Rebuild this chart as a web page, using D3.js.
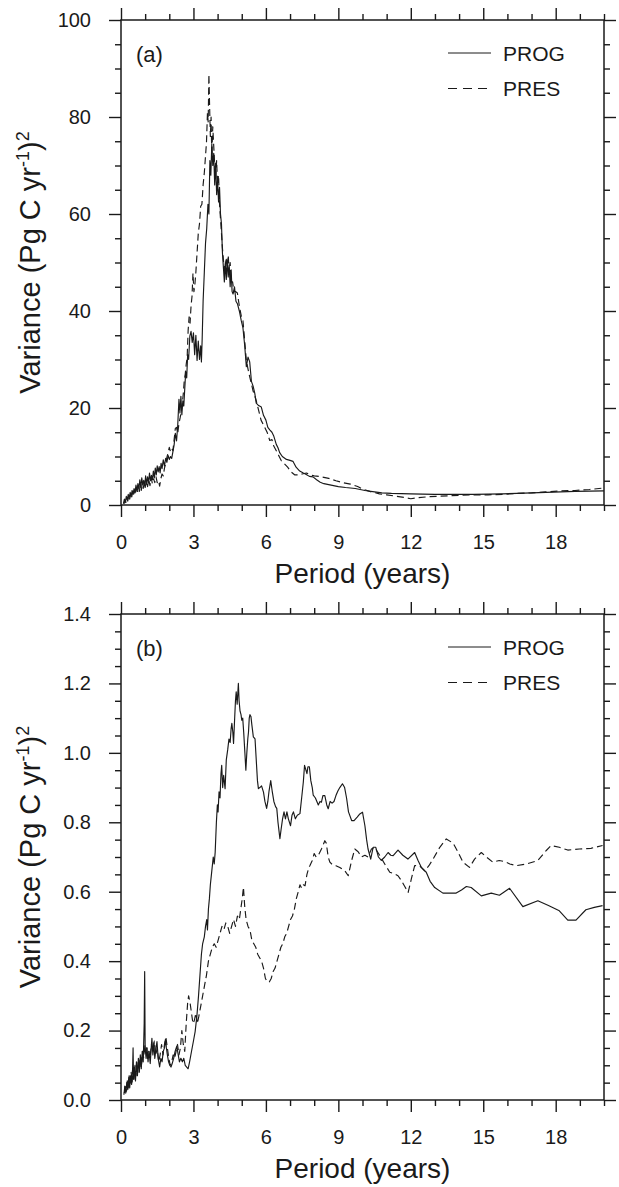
<!DOCTYPE html>
<html><head><meta charset="utf-8">
<script src="https://cdn.jsdelivr.net/npm/d3@7"></script>
<style>
html,body{margin:0;padding:0;background:#fff;}
svg text{font-family:"Liberation Sans",Arial,Helvetica,sans-serif;fill:#1a1a1a;}
</style></head>
<body><svg id="c" width="619" height="1187"></svg>
<script>
// ---------- DATA ----------
const seriesNames = ["PROG", "PRES"];
const panelLabels = ["(a)", "(b)"];
const xTickValues = [0, 3, 6, 9, 12, 15, 18];
const yTicksA = [0, 20, 40, 60, 80, 100];
const yTicksB = [0, 0.2, 0.4, 0.6, 0.8, 1.0, 1.2, 1.4];

// panel (a): [period (years), variance]
const progA = [[0.10,0.3],[0.14,1.2],[0.18,0.6],[0.22,1.8],[0.26,1.0],[0.30,2.2],[0.34,1.4],[0.38,2.6],[0.42,1.7],[0.46,3.0],[0.50,2.2],[0.54,3.4],[0.58,2.5],[0.62,4.1],[0.66,2.9],[0.70,4.4],[0.74,3.3],[0.78,5.2],[0.82,3.6],[0.86,5.6],[0.90,4.2],[0.94,5.1],[0.98,3.9],[1.02,6.0],[1.06,4.3],[1.10,5.8],[1.14,4.6],[1.18,6.6],[1.22,5.0],[1.26,6.1],[1.30,5.2],[1.34,7.0],[1.38,5.6],[1.42,7.6],[1.46,6.2],[1.50,8.1],[1.54,6.8],[1.58,7.9],[1.62,6.6],[1.66,8.6],[1.70,7.5],[1.75,9.3],[1.80,8.0],[1.85,9.6],[1.90,8.8],[1.95,10.2],[2.00,9.4],[2.05,10.0],[2.10,9.6],[2.15,11.0],[2.20,12.4],[2.25,14.8],[2.30,13.2],[2.35,16.5],[2.40,21.8],[2.44,19.0],[2.48,22.4],[2.52,18.6],[2.56,21.5],[2.60,20.4],[2.64,24.0],[2.68,27.5],[2.72,26.2],[2.76,31.0],[2.80,30.0],[2.85,34.8],[2.90,35.8],[2.95,33.5],[3.00,35.5],[3.05,31.0],[3.10,35.0],[3.15,29.8],[3.20,33.8],[3.25,30.0],[3.30,32.8],[3.33,29.5],[3.36,34],[3.40,42],[3.45,48],[3.50,54],[3.55,57],[3.60,62],[3.64,60],[3.68,71],[3.72,68],[3.76,74.5],[3.80,70],[3.84,72.5],[3.88,66],[3.92,70.5],[3.96,64],[4.00,67],[4.04,62.5],[4.08,65.5],[4.12,60],[4.16,58],[4.20,52],[4.24,49],[4.28,46],[4.32,50],[4.36,46.5],[4.40,50.5],[4.44,47],[4.48,49.5],[4.52,45],[4.56,48.5],[4.60,44],[4.64,43.5],[4.70,45],[4.76,42],[4.82,41.5],[4.90,40],[4.98,38],[5.05,36.5],[5.12,33],[5.19,28.5],[5.26,30.5],[5.33,29.5],[5.40,25.5],[5.47,24.5],[5.54,23],[5.60,21],[5.70,20.5],[5.81,20.2],[5.90,18.5],[6.00,17.5],[6.08,16],[6.16,15.5],[6.25,15],[6.32,14.3],[6.43,12.5],[6.50,11.8],[6.57,10.8],[6.68,10],[6.85,9.4],[7.00,9.2],[7.12,9],[7.25,7.8],[7.40,7],[7.55,6.6],[7.67,6.3],[7.80,5.9],[7.95,5.8],[8.10,5.2],[8.25,4.7],[8.40,4.4],[8.60,4.2],[8.80,4.0],[9.00,3.8],[9.30,3.6],[9.70,3.4],[10.1,3.0],[10.5,2.7],[10.8,2.5],[11.2,2.4],[11.6,2.35],[12.0,2.3],[12.5,2.25],[13.0,2.2],[13.5,2.2],[14.0,2.2],[14.6,2.2],[15.2,2.25],[15.8,2.3],[16.4,2.4],[17.0,2.5],[17.6,2.6],[18.2,2.7],[18.8,2.8],[19.4,2.85],[20.0,2.9]];
const presA = [[0.12,0.2],[0.16,0.9],[0.20,0.5],[0.24,1.5],[0.28,0.8],[0.32,1.9],[0.36,1.2],[0.40,2.3],[0.44,1.5],[0.48,2.7],[0.52,1.9],[0.56,3.1],[0.60,2.2],[0.64,3.6],[0.68,2.5],[0.72,3.9],[0.76,2.8],[0.80,4.0],[0.84,3.0],[0.88,4.4],[0.92,3.4],[0.96,4.6],[1.00,3.6],[1.05,5.0],[1.10,3.8],[1.15,5.2],[1.20,4.0],[1.25,5.6],[1.30,4.4],[1.35,5.4],[1.40,4.6],[1.45,5.8],[1.50,4.6],[1.55,5.0],[1.60,3.9],[1.65,5.4],[1.70,6.4],[1.75,6.0],[1.80,7.6],[1.85,8.5],[1.90,9.8],[1.95,10.8],[2.00,11.9],[2.05,11.0],[2.10,11.6],[2.15,11.2],[2.20,13.5],[2.25,15.8],[2.30,16.0],[2.35,14.8],[2.40,16.8],[2.45,18.0],[2.50,19.5],[2.55,21.5],[2.58,23],[2.62,25.7],[2.66,27],[2.70,29],[2.74,30.5],[2.78,36],[2.82,38.8],[2.86,37.5],[2.90,41],[2.94,43],[2.98,47.8],[3.02,44],[3.06,45.5],[3.10,48],[3.15,52],[3.20,56],[3.25,58],[3.30,61.6],[3.35,62],[3.40,66],[3.45,68.5],[3.50,72],[3.54,74.8],[3.58,80.9],[3.61,79],[3.64,88.8],[3.67,82],[3.70,76],[3.73,80],[3.76,72],[3.80,78],[3.84,74],[3.88,70],[3.92,67.5],[3.96,71],[4.00,66],[4.04,68],[4.08,62],[4.12,59],[4.16,56],[4.20,53],[4.25,50],[4.30,48],[4.35,51],[4.40,49],[4.44,51.5],[4.48,48],[4.52,50],[4.56,46],[4.62,46],[4.68,44],[4.75,44],[4.82,43.7],[4.90,41],[4.98,39],[5.05,38],[5.12,34],[5.19,29.8],[5.26,28],[5.33,26.4],[5.40,25],[5.47,23.5],[5.54,22.5],[5.60,21.5],[5.70,19.5],[5.80,17.5],[5.88,16.7],[5.95,16],[6.05,15],[6.16,13.3],[6.25,13.5],[6.32,12.2],[6.43,11.2],[6.55,10],[6.64,9.1],[6.75,8.6],[6.90,7.8],[7.05,6.8],[7.20,6.2],[7.35,6.2],[7.50,6.4],[7.68,6.6],[7.85,6.2],[8.00,6.0],[8.20,5.9],[8.40,5.7],[8.60,5.5],[8.90,5.0],[9.20,4.6],[9.50,4.3],[9.80,3.8],[10.05,3.2],[10.3,2.8],[10.7,2.3],[11.0,2.1],[11.4,1.8],[11.8,1.5],[12.0,1.3],[12.3,1.5],[12.7,1.7],[13.1,1.8],[13.6,1.9],[14.0,2.0],[14.6,2.1],[15.2,2.1],[15.8,2.2],[16.4,2.4],[17.0,2.5],[17.6,2.7],[18.2,2.9],[18.8,3.0],[19.4,3.2],[20.0,3.5]];

// panel (b)
const progB = [[0.12,0.015],[0.16,0.04],[0.20,0.02],[0.24,0.05],[0.28,0.03],[0.32,0.065],[0.36,0.035],[0.40,0.07],[0.44,0.045],[0.48,0.09],[0.50,0.15],[0.52,0.06],[0.56,0.095],[0.60,0.055],[0.64,0.11],[0.68,0.07],[0.72,0.12],[0.76,0.08],[0.80,0.13],[0.84,0.09],[0.88,0.14],[0.92,0.11],[0.96,0.22],[0.98,0.37],[1.00,0.15],[1.04,0.12],[1.08,0.15],[1.12,0.11],[1.16,0.14],[1.21,0.105],[1.25,0.15],[1.28,0.178],[1.32,0.13],[1.36,0.165],[1.40,0.12],[1.45,0.15],[1.49,0.168],[1.54,0.12],[1.60,0.095],[1.65,0.12],[1.70,0.11],[1.75,0.14],[1.80,0.15],[1.84,0.175],[1.88,0.15],[1.92,0.13],[1.97,0.11],[2.02,0.1],[2.07,0.095],[2.12,0.105],[2.18,0.12],[2.24,0.14],[2.31,0.155],[2.37,0.13],[2.42,0.11],[2.48,0.12],[2.54,0.11],[2.60,0.12],[2.66,0.1],[2.72,0.095],[2.78,0.09],[2.84,0.11],[2.93,0.144],[3.00,0.17],[3.07,0.197],[3.14,0.24],[3.21,0.3],[3.27,0.36],[3.33,0.42],[3.38,0.45],[3.45,0.47],[3.50,0.5],[3.55,0.52],[3.58,0.49],[3.62,0.55],[3.66,0.58],[3.70,0.62],[3.76,0.66],[3.82,0.7],[3.86,0.68],[3.90,0.714],[3.95,0.8],[3.99,0.85],[4.02,0.83],[4.06,0.888],[4.10,0.87],[4.14,0.94],[4.17,0.964],[4.21,0.9],[4.25,0.935],[4.31,0.897],[4.36,0.98],[4.42,1.01],[4.47,1.04],[4.52,1.03],[4.56,1.07],[4.59,1.085],[4.63,1.06],[4.66,1.027],[4.70,1.09],[4.74,1.15],[4.77,1.176],[4.81,1.14],[4.86,1.2],[4.89,1.15],[4.93,1.12],[4.97,1.11],[5.00,1.094],[5.04,1.1],[5.08,1.06],[5.13,1.0],[5.17,0.95],[5.21,1.0],[5.25,1.04],[5.28,1.06],[5.31,1.1],[5.34,1.11],[5.38,1.105],[5.42,1.08],[5.48,1.046],[5.55,1.04],[5.60,0.98],[5.65,0.92],[5.69,0.897],[5.75,0.9],[5.82,0.905],[5.90,0.887],[5.96,0.86],[6.03,0.84],[6.08,0.86],[6.13,0.89],[6.20,0.92],[6.26,0.89],[6.33,0.86],[6.40,0.845],[6.45,0.84],[6.50,0.8],[6.58,0.753],[6.63,0.78],[6.69,0.81],[6.75,0.83],[6.81,0.81],[6.87,0.83],[6.93,0.81],[7.02,0.79],[7.08,0.82],[7.14,0.83],[7.22,0.81],[7.30,0.82],[7.41,0.825],[7.48,0.87],[7.55,0.916],[7.60,0.964],[7.66,0.95],[7.70,0.94],[7.74,0.96],[7.80,0.96],[7.86,0.92],[7.92,0.9],[7.96,0.878],[8.05,0.87],[8.17,0.85],[8.24,0.86],[8.30,0.858],[8.36,0.877],[8.44,0.877],[8.52,0.85],[8.58,0.839],[8.66,0.86],[8.74,0.855],[8.82,0.86],[8.90,0.877],[8.98,0.89],[9.06,0.90],[9.17,0.911],[9.26,0.9],[9.34,0.87],[9.42,0.83],[9.55,0.805],[9.65,0.805],[9.78,0.815],[9.89,0.824],[10.0,0.829],[10.1,0.79],[10.17,0.75],[10.23,0.723],[10.34,0.694],[10.44,0.728],[10.55,0.728],[10.66,0.7],[10.78,0.69],[10.92,0.7],[11.06,0.713],[11.17,0.705],[11.27,0.704],[11.47,0.72],[11.67,0.705],[11.88,0.694],[12.16,0.713],[12.30,0.69],[12.44,0.67],[12.64,0.656],[12.8,0.63],[12.99,0.612],[13.33,0.596],[13.88,0.596],[14.1,0.605],[14.3,0.615],[14.5,0.612],[14.92,0.588],[15.33,0.596],[15.67,0.59],[16.09,0.61],[16.64,0.557],[17.26,0.574],[17.7,0.56],[18.15,0.545],[18.5,0.518],[18.84,0.518],[19.25,0.548],[19.6,0.555],[19.94,0.56]];
const presB = [[0.14,0.02],[0.18,0.045],[0.22,0.025],[0.26,0.055],[0.30,0.035],[0.34,0.07],[0.38,0.045],[0.42,0.08],[0.46,0.05],[0.50,0.09],[0.54,0.06],[0.58,0.1],[0.62,0.07],[0.66,0.11],[0.70,0.08],[0.74,0.12],[0.78,0.09],[0.82,0.125],[0.86,0.1],[0.90,0.14],[0.94,0.12],[0.98,0.16],[1.02,0.13],[1.06,0.15],[1.10,0.12],[1.15,0.14],[1.20,0.12],[1.26,0.16],[1.32,0.14],[1.38,0.17],[1.44,0.13],[1.50,0.15],[1.56,0.11],[1.62,0.13],[1.68,0.16],[1.74,0.13],[1.80,0.16],[1.86,0.18],[1.92,0.15],[1.98,0.12],[2.04,0.1],[2.10,0.11],[2.16,0.13],[2.22,0.12],[2.28,0.14],[2.34,0.16],[2.40,0.13],[2.46,0.15],[2.52,0.2],[2.58,0.16],[2.64,0.14],[2.70,0.22],[2.76,0.28],[2.80,0.3],[2.86,0.28],[2.92,0.25],[2.98,0.22],[3.04,0.23],[3.10,0.25],[3.16,0.22],[3.22,0.24],[3.30,0.27],[3.38,0.3],[3.46,0.33],[3.54,0.36],[3.62,0.4],[3.70,0.42],[3.78,0.44],[3.86,0.45],[3.94,0.44],[4.02,0.46],[4.10,0.48],[4.18,0.5],[4.26,0.49],[4.34,0.51],[4.42,0.5],[4.50,0.48],[4.58,0.5],[4.66,0.52],[4.74,0.5],[4.82,0.53],[4.90,0.52],[4.96,0.55],[5.02,0.58],[5.07,0.613],[5.12,0.56],[5.18,0.52],[5.26,0.5],[5.34,0.49],[5.42,0.46],[5.50,0.45],[5.58,0.44],[5.66,0.42],[5.74,0.41],[5.82,0.4],[5.90,0.38],[5.98,0.35],[6.06,0.34],[6.14,0.34],[6.22,0.35],[6.30,0.37],[6.38,0.38],[6.46,0.4],[6.54,0.42],[6.62,0.44],[6.70,0.45],[6.78,0.47],[6.86,0.48],[6.94,0.5],[7.02,0.52],[7.10,0.53],[7.18,0.55],[7.26,0.58],[7.34,0.6],[7.41,0.62],[7.48,0.61],[7.55,0.62],[7.62,0.617],[7.70,0.65],[7.78,0.67],[7.82,0.675],[7.92,0.69],[8.0,0.71],[8.08,0.7],[8.17,0.705],[8.30,0.723],[8.44,0.747],[8.50,0.74],[8.58,0.7],[8.65,0.685],[8.75,0.678],[8.90,0.675],[9.06,0.67],[9.27,0.66],[9.41,0.646],[9.55,0.69],[9.68,0.723],[9.82,0.715],[9.96,0.7],[10.1,0.705],[10.23,0.7],[10.37,0.723],[10.5,0.728],[10.71,0.705],[10.92,0.68],[11.13,0.656],[11.3,0.652],[11.47,0.646],[11.61,0.632],[11.75,0.615],[11.89,0.598],[12.02,0.636],[12.16,0.675],[12.36,0.675],[12.57,0.66],[12.75,0.675],[12.92,0.694],[13.2,0.728],[13.47,0.752],[13.75,0.74],[13.95,0.715],[14.16,0.685],[14.43,0.67],[14.64,0.694],[14.92,0.713],[15.13,0.7],[15.4,0.685],[15.66,0.69],[15.88,0.687],[16.1,0.68],[16.36,0.675],[16.8,0.68],[17.26,0.69],[17.6,0.718],[17.81,0.733],[18.15,0.728],[18.5,0.72],[18.98,0.723],[19.46,0.725],[19.94,0.733]];

// ---------- DRAW ----------
const svg = d3.select("#c");
const L = 121, R = 604;
const panels = [
  {top: 20, bottom: 505, yMax: 100, yTicks: yTicksA, yMinorStep: 5, fmt: d3.format("d"), lines: [progA, presA], label: panelLabels[0]},
  {top: 614, bottom: 1100, yMax: 1.4, yTicks: yTicksB, yMinorStep: 0.05, fmt: d3.format(".1f"), lines: [progB, presB], label: panelLabels[1]}
];
const INK = "#1a1a1a";
const MAJ = 12, MIN = 6;

panels.forEach((p, i) => {
  const x = d3.scaleLinear().domain([0, 20]).range([L, R]);
  const y = d3.scaleLinear().domain([0, p.yMax]).range([p.bottom, p.top]);
  const g = svg.append("g");

  const xMinor = d3.range(0, 20.001, 1).filter(v => v % 3 !== 0);
  const yMinor = d3.range(0, p.yMax + 1e-9, p.yMinorStep).filter(v => !p.yTicks.some(t => Math.abs(t - v) < 1e-6));

  function styleAxis(sel) {
    sel.select(".domain").remove();
    sel.selectAll(".tick line").attr("stroke", INK).attr("stroke-width", 1.4);
    sel.selectAll("text").attr("font-size", 20).attr("fill", INK)
      .style("font-family", '"Liberation Sans",Arial,Helvetica,sans-serif');
  }
  // bottom
  g.append("g").attr("transform", `translate(0,${p.bottom})`)
    .call(d3.axisBottom(x).tickValues(xTickValues).tickSize(MAJ).tickPadding(18).tickFormat(d3.format("d"))).call(styleAxis);
  g.append("g").attr("transform", `translate(0,${p.bottom})`)
    .call(d3.axisBottom(x).tickValues(xMinor).tickSize(MIN).tickFormat("")).call(styleAxis);
  // top
  g.append("g").attr("transform", `translate(0,${p.top})`)
    .call(d3.axisTop(x).tickValues(xTickValues).tickSize(MAJ).tickFormat("")).call(styleAxis);
  g.append("g").attr("transform", `translate(0,${p.top})`)
    .call(d3.axisTop(x).tickValues(xMinor).tickSize(MIN).tickFormat("")).call(styleAxis);
  // left
  g.append("g").attr("transform", `translate(${L},0)`)
    .call(d3.axisLeft(y).tickValues(p.yTicks).tickSize(MAJ).tickPadding(18).tickFormat(p.fmt)).call(styleAxis);
  g.append("g").attr("transform", `translate(${L},0)`)
    .call(d3.axisLeft(y).tickValues(yMinor).tickSize(MIN).tickFormat("")).call(styleAxis);
  // right
  g.append("g").attr("transform", `translate(${R},0)`)
    .call(d3.axisRight(y).tickValues(p.yTicks).tickSize(MAJ).tickFormat("")).call(styleAxis);
  g.append("g").attr("transform", `translate(${R},0)`)
    .call(d3.axisRight(y).tickValues(yMinor).tickSize(MIN).tickFormat("")).call(styleAxis);

  // clip
  const cid = "clip" + i;
  svg.append("clipPath").attr("id", cid).append("rect")
    .attr("x", L).attr("y", p.top).attr("width", R - L).attr("height", p.bottom - p.top);

  const line = d3.line().x(d => x(d[0])).y(d => y(d[1]));
  g.append("path").datum(p.lines[0]).attr("clip-path", `url(#${cid})`)
    .attr("d", line).attr("fill", "none").attr("stroke", INK).attr("stroke-width", 1.15).attr("stroke-linejoin", "round");
  g.append("path").datum(p.lines[1]).attr("clip-path", `url(#${cid})`)
    .attr("d", line).attr("fill", "none").attr("stroke", INK).attr("stroke-width", 1.15)
    .attr("stroke-dasharray", "7,4").attr("stroke-linejoin", "round");

  // frame
  g.append("rect").attr("x", L).attr("y", p.top).attr("width", R - L).attr("height", p.bottom - p.top)
    .attr("fill", "none").attr("stroke", INK).attr("stroke-width", 1.5);

  // panel label
  g.append("text").attr("x", 136).attr("y", p.top + 34).attr("dy", "0.35em")
    .attr("font-size", 22).text(p.label);

  // legend
  const legY = [p.top + 33, p.top + 68.5];
  seriesNames.forEach((nm, k) => {
    g.append("line").attr("x1", 448).attr("x2", 491).attr("y1", legY[k]).attr("y2", legY[k])
      .attr("stroke", INK).attr("stroke-width", 1)
      .attr("stroke-dasharray", k === 1 ? "9,6" : null);
    g.append("text").attr("x", 503).attr("y", legY[k]).attr("dy", "0.36em")
      .attr("font-size", 21).text(nm);
  });

  // x title
  g.append("text").attr("x", (L + R) / 2).attr("y", p.bottom + 78).attr("text-anchor", "middle")
    .attr("font-size", 28).text("Period (years)");

  // y title
  const yt = g.append("text").attr("transform", `translate(40,${(p.top + p.bottom) / 2}) rotate(-90)`)
    .attr("text-anchor", "middle").attr("font-size", 29);
  yt.append("tspan").text("Variance (Pg C yr");
  yt.append("tspan").attr("font-size", 18).attr("dy", -11).text("-1");
  yt.append("tspan").attr("dy", 11).text(")");
  yt.append("tspan").attr("font-size", 18).attr("dy", -11).text("2");
});
</script></body></html>
